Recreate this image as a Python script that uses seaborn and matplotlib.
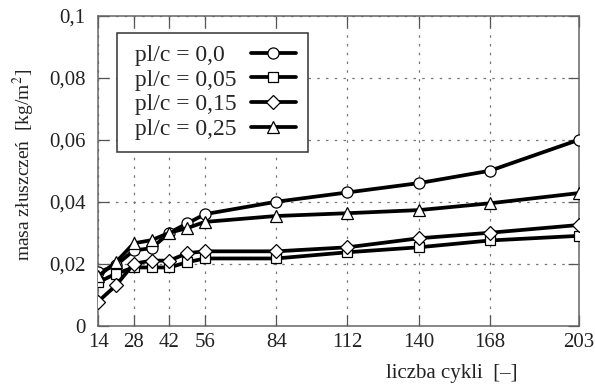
import pandas as pd
import matplotlib
matplotlib.use('Agg')
import matplotlib.pyplot as plt
import seaborn as sns
from matplotlib.ticker import FuncFormatter

cykle = [14, 21, 28, 35, 42, 49, 56, 84, 112, 140, 168, 203]
masa_00 = [0.0172, 0.0195, 0.0243, 0.025, 0.030, 0.033, 0.036, 0.040, 0.043, 0.046, 0.050, 0.060]
masa_05 = [0.014, 0.0168, 0.0188, 0.0188, 0.0188, 0.0205, 0.0217, 0.0217, 0.0237, 0.0253, 0.0275, 0.029]
masa_15 = [0.0078, 0.013, 0.020, 0.021, 0.021, 0.0234, 0.024, 0.024, 0.0253, 0.0282, 0.030, 0.0325]
masa_25 = [0.016, 0.0205, 0.0266, 0.0276, 0.030, 0.0315, 0.0335, 0.0354, 0.0363, 0.0373, 0.0395, 0.0428]
etykiety = ['pl/c = 0,0', 'pl/c = 0,05', 'pl/c = 0,15', 'pl/c = 0,25']
x_ticks = [14, 28, 42, 56, 84, 112, 140, 168, 203]
y_ticks = [0, 0.02, 0.04, 0.06, 0.08, 0.1]

df = pd.concat([
    pd.DataFrame({'cykle': cykle, 'masa': m, 'seria': e})
    for m, e in zip([masa_00, masa_05, masa_15, masa_25], etykiety)
])

sns.set_theme(style='ticks')
plt.rcParams['font.family'] = ['Liberation Serif', 'DejaVu Serif']
plt.rcParams['mathtext.fontset'] = 'stix'

fig = plt.figure(figsize=(5.95, 3.85), dpi=100)
ax = fig.add_axes([0.165, 0.154, 0.808, 0.805])

sns.lineplot(data=df, x='cykle', y='masa', hue='seria', style='seria',
             palette=['black'] * 4, markers=['o', 's', 'D', '^'], dashes=False,
             linewidth=2.7, markersize=8, markerfacecolor='white',
             markeredgecolor='black', markeredgewidth=0.9, ax=ax, zorder=3)
for ln in ax.lines:
    if ln.get_marker() in ('D', 's'):
        ln.set_markersize(7)

ax.set_xlim(14, 203)
ax.set_ylim(0, 0.1)
ax.set_xticks(x_ticks)
ax.set_yticks(y_ticks)
ax.yaxis.set_major_formatter(FuncFormatter(
    lambda v, p: '0' if v == 0 else ('%g' % round(v, 3)).replace('.', ',')))
ax.tick_params(direction='in', top=True, right=True, length=8, width=0.9,
               colors='#555555', labelcolor='#222222', labelsize=15)
ax.tick_params(axis='y', pad=9)
ax.tick_params(axis='x', pad=5)
for s in ax.spines.values():
    s.set_color('#666666')
    s.set_linewidth(1.1)
ax.grid(True, color='#777777', linestyle=(0, (2, 5)), linewidth=0.9)

ax.set_xlabel('liczba cykli  [–]', fontsize=15, color='#222222')
ax.xaxis.set_label_coords(0.735, -0.125)
ax.set_ylabel('masa złuszczeń  [kg/m$^2$]', fontsize=14, color='#222222')
ax.yaxis.set_label_coords(-0.128, 0.52)

h, l = ax.get_legend_handles_labels()
l = [' ' + t + ('\u2007' if t.endswith('0,0') else '') for t in l]
leg = ax.legend(h, l, loc='upper left', bbox_to_anchor=(0.04, 0.945),
                borderaxespad=0, markerfirst=False, fontsize=17, handlelength=1.9,
                labelspacing=0.13, borderpad=0.5, handletextpad=0.6,
                fancybox=False, framealpha=1, edgecolor='#333333')
leg.get_frame().set_linewidth(1.1)
leg.set_zorder(5)

fig.savefig('out.png', dpi=100)
